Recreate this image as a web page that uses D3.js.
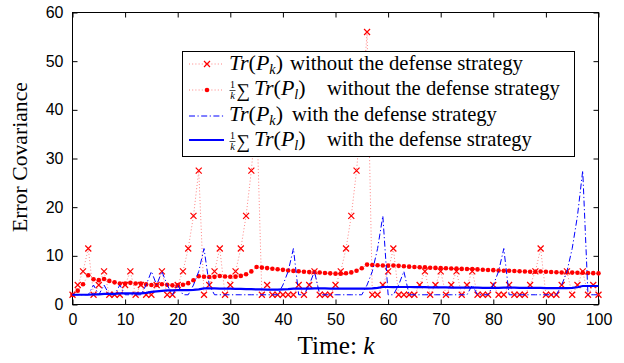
<!DOCTYPE html>
<html><head><meta charset="utf-8">
<script src="https://cdn.jsdelivr.net/npm/d3@7"></script>
<style>body{margin:0;background:#fff}</style>
</head><body>
<svg id="c" width="624" height="363"></svg>
<script>
// time steps k = 0..100
const steps = d3.range(0, 101);
// Tr(P_k) without the defense strategy
const trNoDef = [2,4,6.8,11.5,2,4,6.8,2,2,2,4,6.8,2,4,2,2,4,6.8,2,2,
  4,6.8,11.5,18.2,27.5,2,4,6.8,11.5,2,4,6.8,11.5,18.2,27.5,40,2,4,2,2,
  2,2,2,4,2,4,6.8,2,2,2,4,6.8,11.5,18.2,27.5,40,56,2,2,4,
  6.8,11.5,2,2,2,2,4,6.8,2,4,6.8,2,4,6.8,2,4,6.8,2,2,2,
  4,2,2,4,2,2,2,4,6.8,11.5,2,2,2,4,6.8,2,4,6.8,2,4,2];
// (1/k) sum Tr(P_l) without the defense strategy
const avgNoDef = [2.00,2.85,4.15,6.00,5.20,5.00,5.25,4.85,4.55,4.30,4.28,4.45,4.30,4.28,4.13,4.00,4.00,4.15,4.04,3.94,
  3.94,4.07,4.39,4.97,5.80,5.70,5.64,5.68,5.86,5.75,5.70,5.72,5.88,6.22,6.80,7.70,7.58,7.48,7.36,7.24,
  7.12,7.00,6.90,6.82,6.72,6.66,6.66,6.56,6.48,6.40,6.34,6.34,6.42,6.60,6.95,7.45,8.20,8.12,8.05,8.00,
  7.98,8.02,7.94,7.86,7.78,7.70,7.66,7.64,7.56,7.52,7.50,7.44,7.40,7.38,7.32,7.28,7.27,7.21,7.15,7.10,
  7.06,7.00,6.95,6.92,6.87,6.82,6.77,6.74,6.73,6.77,6.72,6.67,6.62,6.59,6.59,6.55,6.52,6.51,6.47,6.44,6.40];
// Tr(P_k) with the defense strategy
const trDef = [2,2,2,2,4,2,4,2,2,4,2,2,2,2,4,6.8,4,6.8,4,2,
  4,2,2,4,6.8,11.5,4,2,2,2,2,2,2,2,2,2,2,2,2,2,
  4,6.8,11.5,2,2,4,6.8,2,2,2,2,2,2,2,2,2,4,6.8,11.5,18.2,
  2,2,4,6.8,2,2,2,2,2,2,2,2,2,2,2,2,4,2,2,2,
  4,6.8,11.5,2,2,2,2,2,2,2,2,2,2,4,6.8,11.5,18.2,27.5,2,2,2];
// (1/k) sum Tr(P_l) with the defense strategy
const avgDef = [2.00,2.00,2.00,2.00,2.10,2.10,2.20,2.20,2.20,2.30,2.30,2.30,2.30,2.30,2.40,2.60,2.70,2.80,2.90,2.90,
  2.95,2.95,2.95,3.00,3.10,3.30,3.30,3.30,3.25,3.25,3.25,3.20,3.20,3.15,3.15,3.10,3.10,3.05,3.05,3.05,
  3.10,3.15,3.25,3.25,3.25,3.25,3.30,3.30,3.30,3.25,3.25,3.25,3.25,3.25,3.25,3.25,3.25,3.30,3.40,3.60,
  3.60,3.55,3.60,3.60,3.60,3.55,3.55,3.55,3.50,3.50,3.50,3.50,3.45,3.45,3.45,3.45,3.45,3.45,3.40,3.40,
  3.40,3.40,3.45,3.45,3.45,3.40,3.40,3.40,3.40,3.40,3.35,3.35,3.35,3.35,3.35,3.40,3.55,3.80,3.80,3.80,3.80];
const xTicks = [0,10,20,30,40,50,60,70,80,90,100];
const yTicks = [0,10,20,30,40,50,60];

const svg = d3.select('#c');
const L = 72.5, R = 598.5, T = 12.5, B = 304.5;
const x = d3.scaleLinear([0, 100], [L, R]);
const y = d3.scaleLinear([0, 60], [B, T]);
const sans = "Liberation Sans, Arial, sans-serif";
const serif = "Liberation Serif, Times New Roman, serif";

function fit(sel, target){ const n = sel.node(); const w = n.getComputedTextLength(); const fs = +sel.attr('font-size'); if(w>0) sel.attr('font-size', fs*target/w); return sel; }

// axes
function style(g){ g.select('.domain').remove(); g.selectAll('line').attr('stroke','#000'); g.selectAll('text').attr('fill','#000').attr('font-family',sans).attr('font-size',16); }
const ax = svg.append('g');
ax.append('g').attr('transform',`translate(0,${B})`).call(d3.axisBottom(x).tickValues(xTicks).tickSizeInner(-5).tickSizeOuter(0).tickPadding(9)).call(style);
ax.append('g').attr('transform',`translate(0,${T})`).call(d3.axisTop(x).tickValues(xTicks).tickSizeInner(-5).tickSizeOuter(0).tickFormat('')).call(style);
ax.append('g').attr('transform',`translate(${L},0)`).call(d3.axisLeft(y).tickValues(yTicks).tickSizeInner(-5).tickSizeOuter(0).tickPadding(9)).call(style);
ax.append('g').attr('transform',`translate(${R},0)`).call(d3.axisRight(y).tickValues(yTicks).tickSizeInner(-5).tickSizeOuter(0).tickFormat('')).call(style);
svg.append('rect').attr('x',L).attr('y',T).attr('width',R-L).attr('height',B-T).attr('fill','none').attr('stroke','#000').attr('stroke-width',1);

const line = d3.line().x((d,i)=>x(steps[i])).y(d=>y(d));
const red = '#ff0000', blue = '#0000ff';
const g = svg.append('g');
g.append('path').attr('d', line(trNoDef)).attr('fill','none').attr('stroke',red).attr('stroke-width',0.9).attr('stroke-dasharray','1,2.2').attr('opacity',0.55);
function xMark(sel, cx, cy){ const s=3; sel.append('path').attr('d',`M${cx-s},${cy-s}L${cx+s},${cy+s}M${cx-s},${cy+s}L${cx+s},${cy-s}`).attr('stroke',red).attr('stroke-width',1.2).attr('fill','none'); }
trNoDef.forEach((d,i)=>xMark(g, x(steps[i]), y(d)));
g.append('path').attr('d', line(avgNoDef)).attr('fill','none').attr('stroke',red).attr('stroke-width',0.9).attr('stroke-dasharray','1,2.2').attr('opacity',0.55);
g.selectAll('circle.a').data(avgNoDef).join('circle').attr('cx',(d,i)=>x(steps[i])).attr('cy',d=>y(d)).attr('r',2.3).attr('fill',red);
g.append('path').attr('d', line(trDef)).attr('fill','none').attr('stroke',blue).attr('stroke-width',1).attr('stroke-dasharray','6,2.5,1.2,2.5');
g.append('path').attr('d', line(avgDef)).attr('fill','none').attr('stroke',blue).attr('stroke-width',2.2);

// legend
const lg = svg.append('g');
lg.append('rect').attr('x',182.5).attr('y',51.5).attr('width',392).attr('height',105).attr('fill','#fff').attr('stroke','#000').attr('stroke-width',1);
const rows = [
  {cy:64, base:70, kind:'x', math:'k', words:'without the defense strategy', wx:290, ww:233},
  {cy:90, base:95, kind:'dot', math:'sum', words:'without the defense strategy', wx:327, ww:233},
  {cy:116, base:121, kind:'dashdot', math:'k', words:'with the defense strategy', wx:292, ww:205},
  {cy:140, base:146, kind:'solid', math:'sum', words:'with the defense strategy', wx:327, ww:205}
];
let mathFs = 20;
rows.forEach(r=>{
  const p = lg.append('path').attr('d',`M189,${r.cy}L224,${r.cy}`).attr('fill','none');
  if(r.kind==='x'||r.kind==='dot'){ p.attr('stroke',red).attr('stroke-width',0.9).attr('stroke-dasharray','1,2.2').attr('opacity',0.55); }
  if(r.kind==='x') xMark(lg,207,r.cy);
  if(r.kind==='dot') lg.append('circle').attr('cx',207).attr('cy',r.cy).attr('r',2.3).attr('fill',red);
  if(r.kind==='dashdot') p.attr('stroke',blue).attr('stroke-width',1).attr('stroke-dasharray','6,2.5,1.2,2.5');
  if(r.kind==='solid') p.attr('stroke',blue).attr('stroke-width',2.2);
  let mx = 229;
  if(r.math==='sum'){
    lg.append('text').attr('x',232.5).attr('y',r.base-7).attr('text-anchor','middle').attr('font-family',serif).attr('font-size',10).text('1');
    lg.append('line').attr('x1',229.5).attr('x2',235.5).attr('y1',r.base-4.5).attr('y2',r.base-4.5).attr('stroke','#000').attr('stroke-width',0.7);
    lg.append('text').attr('x',232.5).attr('y',r.base+4).attr('text-anchor','middle').attr('font-family',serif).attr('font-style','italic').attr('font-size',10.5).text('k');
    lg.append('text').attr('x',236.5).attr('y',r.base+1.5).attr('font-family',serif).attr('font-size',19).text('\u2211');
    mx = 254;
  }
  const t = lg.append('text').attr('x',mx).attr('y',r.base).attr('font-family',serif).attr('font-size',20);
  t.append('tspan').attr('font-style','italic').text('Tr');
  t.append('tspan').text('(');
  t.append('tspan').attr('font-style','italic').text('P');
  t.append('tspan').attr('font-style','italic').attr('font-size','0.65em').attr('dy',4).text(r.math==='sum'?'l':'k');
  t.append('tspan').attr('dy',-4).text(')');
  if(r.math==='k'){ fit(t, 54); mathFs = +t.attr('font-size'); }
  else { t.attr('font-size', mathFs); }
  const w = lg.append('text').attr('x',r.wx).attr('y',r.base).attr('font-family',serif).attr('font-size',19).text(r.words);
  fit(w, r.ww);
});

// axis titles
const yt = svg.append('text').attr('transform','translate(27,157) rotate(-90)').attr('text-anchor','middle').attr('font-family',serif).attr('font-size',20).text('Error Covariance');
fit(yt, 150);
const xt = svg.append('text').attr('x',336).attr('y',354).attr('text-anchor','middle').attr('font-family',serif).attr('font-size',20);
xt.append('tspan').text('Time: ');
xt.append('tspan').attr('font-style','italic').text('k');
fit(xt, 77);
</script>
</body></html>
